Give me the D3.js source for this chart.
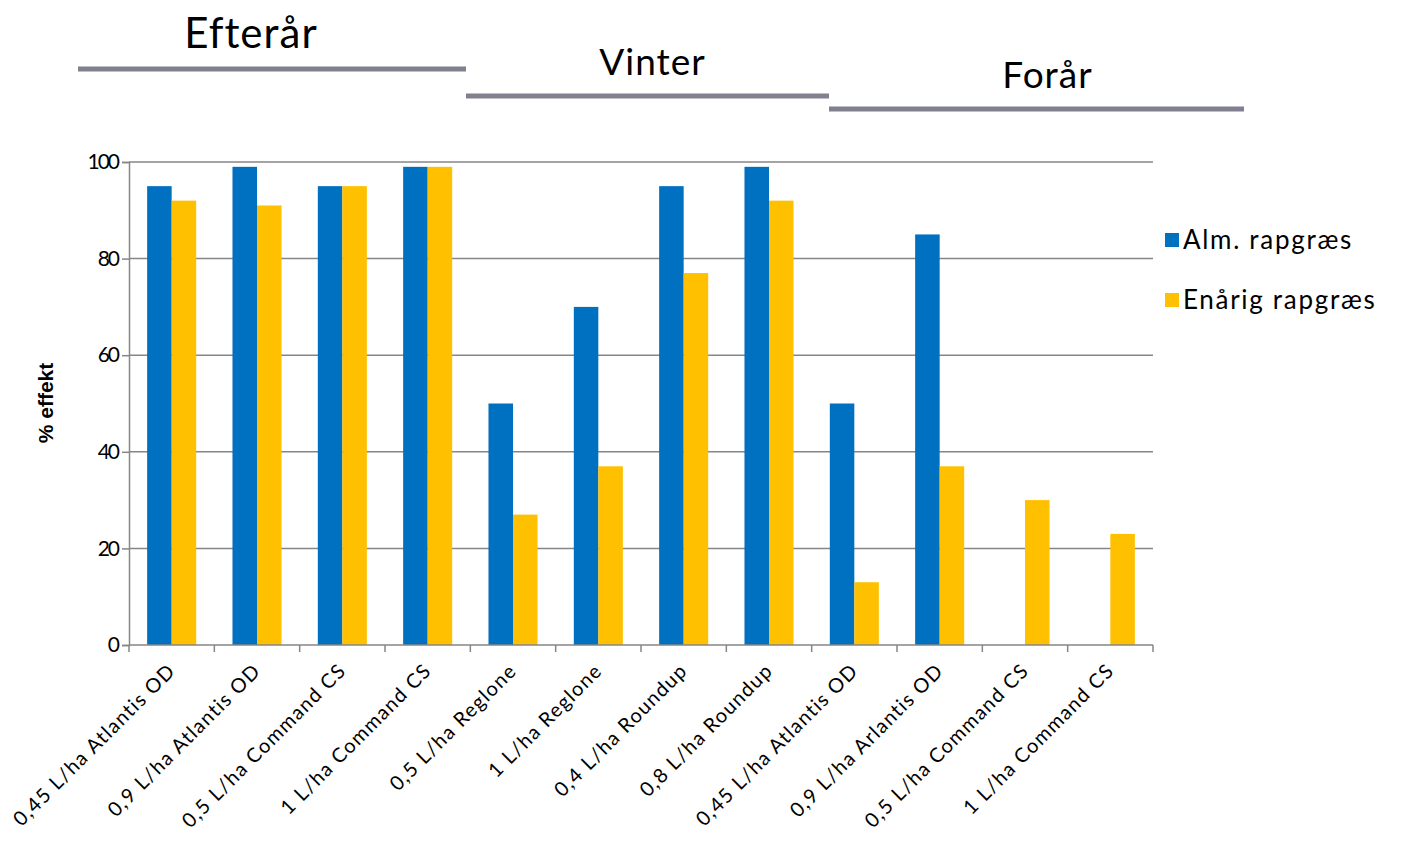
<!DOCTYPE html>
<html>
<head>
<meta charset="utf-8">
<script src="https://cdn.jsdelivr.net/npm/d3@7"></script>
<style>
    body { margin: 0; background: #fff; }
    text { font-family: Lato, "DejaVu Sans", sans-serif; fill: #000; }
</style>
</head>
<body>
<div id="chart"></div>
<script>
// chart data
let categories = [
    '0,45 L/ha Atlantis OD', '0,9 L/ha Atlantis OD', '0,5 L/ha Command CS', '1 L/ha Command CS',
    '0,5 L/ha Reglone', '1 L/ha Reglone', '0,4 L/ha Roundup', '0,8 L/ha Roundup',
    '0,45 L/ha Atlantis OD', '0,9 L/ha Arlantis OD', '0,5 L/ha Command CS', '1 L/ha Command CS'
]
let almValues = [95, 99, 95, 99, 50, 70, 95, 99, 50, 85, 0, 0]
let enaarigValues = [92, 91, 95, 99, 27, 37, 77, 92, 13, 37, 30, 23]
let seriesNames = ['Alm. rapgræs', 'Enårig rapgræs']
let yTicks = [0, 20, 40, 60, 80, 100]
// season groups
let seasons = ['Efterår', 'Vinter', 'Forår']

let colors = ['#0070c0', '#ffc000']
let width = 1415
let height = 846
let margin = { top: 162, left: 129, right: 262, bottom: 201 }
let innerW = width - margin.left - margin.right
let innerH = height - margin.top - margin.bottom

let svg = d3.select('#chart').append('svg')
    .attr('width', width)
    .attr('height', height)

let g = svg.append('g')
    .attr('transform', 'translate(' + margin.left + ',' + margin.top + ')')

let x = d3.scaleBand()
    .domain(d3.range(categories.length))
    .range([0, innerW])

let x1 = d3.scaleBand()
    .domain([0, 1])
    .range([0, x.bandwidth()])
    .paddingOuter(0.74)

let y = d3.scaleLinear()
    .domain([0, 100])
    .range([innerH, 0])

// gridlines
g.append('g')
    .selectAll('line')
    .data(yTicks.slice(1))
    .join('line')
    .attr('x1', 0)
    .attr('x2', innerW)
    .attr('y1', d => y(d))
    .attr('y2', d => y(d))
    .attr('stroke', '#868686')
    .attr('stroke-width', 1.5)

// bars
let series = [almValues, enaarigValues]
series.forEach((vals, s) => {
    g.append('g')
        .selectAll('rect')
        .data(vals)
        .join('rect')
        .attr('x', (d, i) => x(i) + x1(s))
        .attr('width', x1.bandwidth())
        .attr('y', d => y(d))
        .attr('height', d => innerH - y(d))
        .attr('fill', colors[s])
})

// y axis
let yAxis = g.append('g')
    .call(d3.axisLeft(y).tickValues(yTicks).tickSize(7).tickPadding(4))
yAxis.select('.domain').attr('stroke', '#868686').attr('stroke-width', 1.5)
yAxis.selectAll('.tick line').attr('stroke', '#868686').attr('stroke-width', 1.5)
yAxis.selectAll('.tick text')
    .style('font-family', 'Lato, sans-serif')
    .style('font-size', '21px')
    .style('letter-spacing', '-2px')
    .attr('fill', '#000')

// x axis: ticks on band boundaries
let xAxis = g.append('g')
    .attr('transform', 'translate(0,' + innerH + ')')
xAxis.append('line')
    .attr('x1', 0)
    .attr('x2', innerW)
    .attr('stroke', '#868686')
    .attr('stroke-width', 1.5)
xAxis.selectAll('.xtick')
    .data(d3.range(categories.length + 1))
    .join('line')
    .attr('class', 'xtick')
    .attr('x1', d => d * x.step())
    .attr('x2', d => d * x.step())
    .attr('y1', 0)
    .attr('y2', 7)
    .attr('stroke', '#868686')
    .attr('stroke-width', 1.5)
xAxis.selectAll('.xlabel')
    .data(categories)
    .join('text')
    .attr('class', 'xlabel')
    .attr('text-anchor', 'end')
    .attr('transform', (d, i) => 'translate(' + (x(i) + x.bandwidth() / 2 + 5) + ',27) rotate(-45)')
    .style('font-size', '20px')
    .style('letter-spacing', '1.3px')
    .text(d => d)

// y axis title
svg.append('text')
    .attr('transform', 'translate(53,403) rotate(-90)')
    .attr('text-anchor', 'middle')
    .style('font-family', '"Liberation Sans", Arial, sans-serif')
    .style('font-size', '21px')
    .style('font-weight', 'bold')
    .text('% effekt')

// legend
let legend = svg.append('g')
    .attr('transform', 'translate(1165,233)')
seriesNames.forEach((name, i) => {
    let item = legend.append('g')
        .attr('transform', 'translate(0,' + (i * 60) + ')')
    item.append('rect')
        .attr('width', 14)
        .attr('height', 14)
        .attr('fill', colors[i])
    item.append('text')
        .attr('x', 18)
        .attr('y', 16)
        .style('font-size', '26px')
        .style('letter-spacing', '1.7px')
        .text(name)
})

// season headers with underlines
let seasonLineY = [69, 96, 109]
let seasonTextY = [48, 75, 88]
let seasonSize = [42, 37, 37]
let lineEnds = [[78, 466], [466, 829], [829, 1244]]
seasons.forEach((name, i) => {
    let x0 = lineEnds[i][0]
    let x1e = lineEnds[i][1]
    svg.append('line')
        .attr('x1', x0)
        .attr('x2', x1e)
        .attr('y1', seasonLineY[i])
        .attr('y2', seasonLineY[i])
        .attr('stroke', '#808090')
        .attr('stroke-width', 5)
    svg.append('text')
        .attr('x', (x0 + x1e) / 2 + (i === 0 ? -21 : (i === 2 ? 11 : 5)))
        .attr('y', seasonTextY[i])
        .attr('text-anchor', 'middle')
        .style('font-size', seasonSize[i] + 'px')
        .style('letter-spacing', '1px')
        .text(name)
})
</script>
</body>
</html>
